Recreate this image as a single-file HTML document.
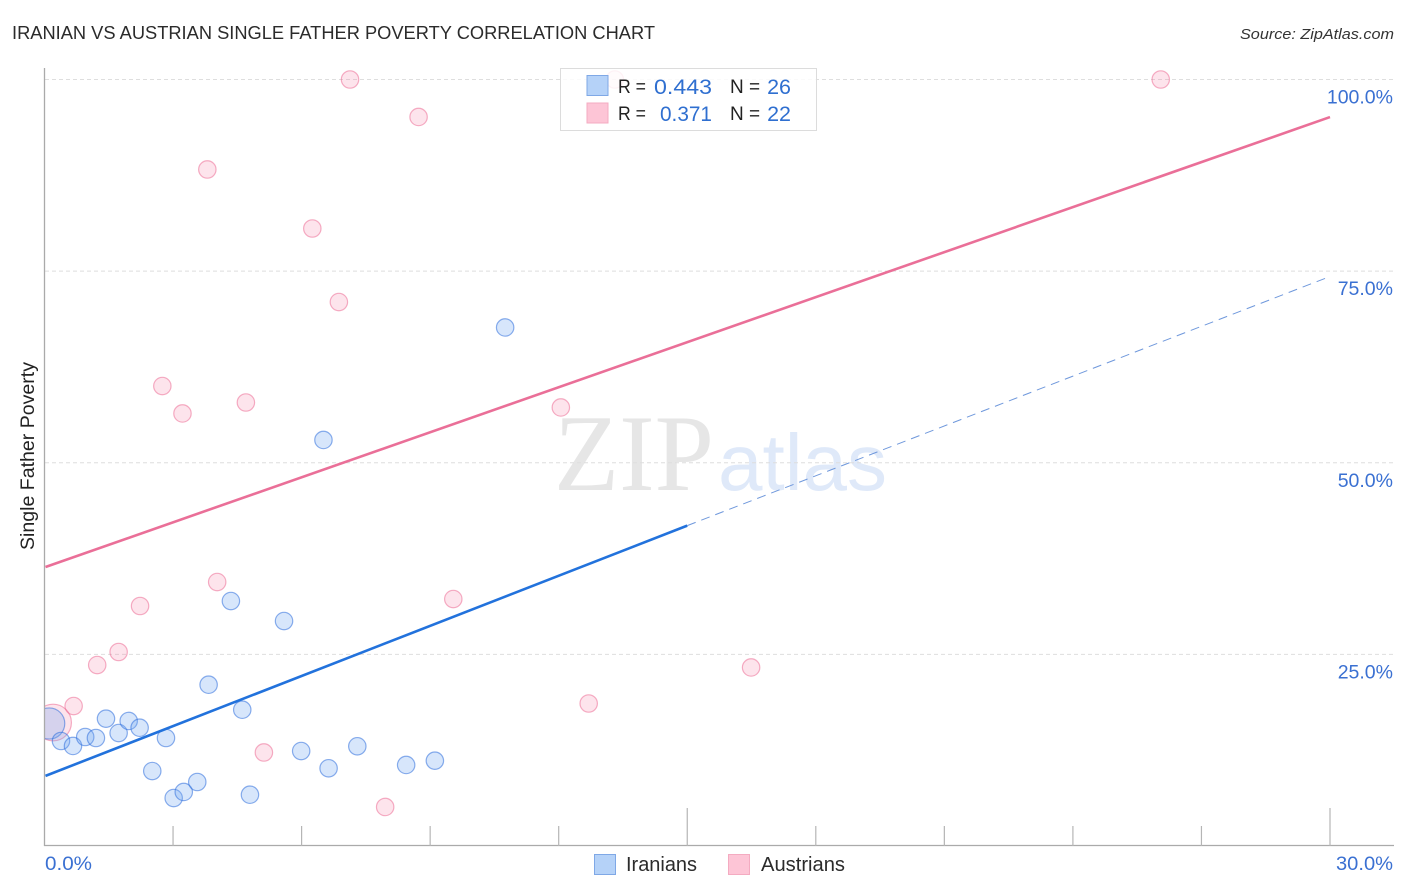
<!DOCTYPE html>
<html lang="en">
<head>
<meta charset="utf-8">
<title>Iranian vs Austrian Single Father Poverty Correlation Chart</title>
<style>
html,body{margin:0;padding:0;background:#fff;width:1406px;height:892px;overflow:hidden}
svg{display:block;font-family:"Liberation Sans",sans-serif}
</style>
</head>
<body>
<svg id="chart" width="1406" height="892" viewBox="0 0 1406 892" xmlns="http://www.w3.org/2000/svg">
  <text x="12" y="39" font-size="18.5" fill="#2b2b2b" textLength="643" lengthAdjust="spacingAndGlyphs">IRANIAN VS AUSTRIAN SINGLE FATHER POVERTY CORRELATION CHART</text>
  <text x="1394" y="39" font-size="15" font-style="italic" fill="#333" text-anchor="end" textLength="154" lengthAdjust="spacingAndGlyphs">Source: ZipAtlas.com</text>

  <g>
    <text x="554" y="490" font-family="'Liberation Serif',serif" font-size="109" fill="#e6e6e6" textLength="160" lengthAdjust="spacingAndGlyphs">ZIP</text>
    <text x="718" y="490" font-size="80" fill="#dfe9f9" textLength="169" lengthAdjust="spacingAndGlyphs">atlas</text>
  </g>

  <g id="grid"></g>
  <g id="points"></g>
  <rect x="26" y="695" width="18.5" height="55" fill="#fff"/>
  <g id="axes"></g>
  <g id="trends"></g>

  <g>
    <rect x="560.5" y="68.5" width="256" height="62" fill="#fff" fill-opacity="0.84" stroke="#dcdcdc" stroke-width="1"/>
    <rect x="587" y="75.5" width="21" height="20" fill="#b5d2f8" stroke="#7fa8e6" stroke-width="1"/>
    <rect x="587" y="103" width="21" height="20" fill="#fdc5d6" stroke="#f4abc1" stroke-width="1"/>
    <text x="618" y="93" font-size="19" fill="#222" textLength="28" lengthAdjust="spacingAndGlyphs">R =</text>
    <text x="654" y="94" font-size="21.5" fill="#2f6fd0" textLength="58" lengthAdjust="spacingAndGlyphs">0.443</text>
    <text x="730" y="93" font-size="19" fill="#222">N =</text>
    <text x="791" y="94" font-size="21.5" fill="#2f6fd0" text-anchor="end">26</text>
    <text x="618" y="120" font-size="19" fill="#222" textLength="28" lengthAdjust="spacingAndGlyphs">R =</text>
    <text x="660" y="121" font-size="21.5" fill="#2f6fd0" textLength="52" lengthAdjust="spacingAndGlyphs">0.371</text>
    <text x="730" y="120" font-size="19" fill="#222">N =</text>
    <text x="791" y="121" font-size="21.5" fill="#2f6fd0" text-anchor="end">22</text>
  </g>

  <g>
    <g>
      <rect x="594.5" y="854.5" width="21" height="20" fill="#b5d2f8" stroke="#7fa8e6" stroke-width="1"/>
      <text x="626" y="871" font-size="20" fill="#2b2b2b" textLength="71" lengthAdjust="spacingAndGlyphs">Iranians</text>
    </g>
    <g>
      <rect x="728.5" y="854.5" width="21" height="20" fill="#fdc5d6" stroke="#f4abc1" stroke-width="1"/>
      <text x="761" y="871" font-size="20" fill="#2b2b2b" textLength="84" lengthAdjust="spacingAndGlyphs">Austrians</text>
    </g>
  </g>

  <text transform="translate(34 456) rotate(-90)" font-size="19.5" fill="#222" text-anchor="middle" textLength="188" lengthAdjust="spacingAndGlyphs">Single Father Poverty</text>
</svg>
<script>
const iranianX = [0.11,0.385,0.665,0.95,1.20,1.435,1.73,1.965,2.22,2.515,2.835,3.015,3.25,3.565,3.83,4.35,4.615,4.795,5.59,5.99,6.51,6.63,7.30,8.44,9.11,10.75];
const iranianY = [15.98,13.70,13.05,14.22,14.09,16.61,14.74,16.31,15.43,9.78,14.09,6.26,7.05,8.35,21.04,31.96,17.78,6.69,29.35,12.39,52.97,10.14,13.01,10.57,11.13,67.65];
const iranianWeight = [3.2,1,1,1,1,1,1,1,1,1,1,1,1,1,1,1,1,1,1,1,1,1,1,1,1,1];
const austrianX = [0.20,0.68,1.23,1.73,2.23,2.75,3.22,3.80,4.03,4.70,5.12,6.25,6.87,7.13,7.95,8.73,9.54,12.05,12.70,13.31,16.49,26.05];
const austrianY = [16.11,18.26,23.61,25.31,31.31,60.01,56.43,88.26,34.44,57.86,12.20,80.56,70.97,100,5.09,95.11,32.22,57.21,18.59,100,23.29,100];
const austrianWeight = [4.45,1,1,1,1,1,1,1,1,1,1,1,1,1,1,1,1,1,1,1,1,1];
const iranianTrendX = [0,15,30];
const iranianTrendY = [9.15,41.8,74.3];
const austrianTrendX = [0,30];
const austrianTrendY = [36.4,95.1];
const yTicks = [25,50,75,100];
const yTickLabels = ['25.0%','50.0%','75.0%','100.0%'];
const xTicks = [3,6,9,12,15,18,21,24,27,30];
const xMajorTicks = [15,30];
const xEndLabels = ['0.0%','30.0%'];

const NS = 'http://www.w3.org/2000/svg';
const sx = v => 44.5 + v * 42.85;
const sy = v => 846 - v * 7.665;
const radius = w => 8.7 * Math.sqrt(w);
function make(tag, parent, attrs, text) {
  const el = document.createElementNS(NS, tag);
  for (const k in attrs) el.setAttribute(k, attrs[k]);
  if (text !== undefined) el.textContent = text;
  parent.appendChild(el);
  return el;
}
const grid = document.getElementById('grid');
const axes = document.getElementById('axes');
const points = document.getElementById('points');
const trends = document.getElementById('trends');

yTicks.forEach((t, i) => {
  const g = make('line', grid, {x1: 45, x2: 1394, y1: sy(t), y2: sy(t), stroke: '#dedede', 'stroke-width': 1, 'stroke-dasharray': '4 3'});
  
  
  const lbl = make('text', axes, {x: 1393, y: sy(t) + 24, 'font-size': 19.5, fill: '#3a70d2', 'text-anchor': 'end'}, yTickLabels[i]);
  
  
});

const yAxis = make('line', axes, {x1: 44.5, x2: 44.5, y1: 68, y2: 846, stroke: '#aaa', 'stroke-width': 1.3});


const xAxis = make('line', axes, {x1: 44, x2: 1394, y1: 845.5, y2: 845.5, stroke: '#aaa', 'stroke-width': 1.3});



xTicks.forEach(t => {
  const top = xMajorTicks.includes(t) ? 808 : 826;
  const tick = make('line', axes, {x1: sx(t), x2: sx(t), y1: top, y2: 846, stroke: '#b5b5b5', 'stroke-width': 1.2});
  
  
});

const xLabelLeft = make('text', axes, {x: 45, y: 870, 'font-size': 19.5, fill: '#3a70d2', textLength: 47, lengthAdjust: 'spacingAndGlyphs'}, xEndLabels[0]);


const xLabelRight = make('text', axes, {x: 1336, y: 870, 'font-size': 19.5, fill: '#3a70d2', textLength: 57, lengthAdjust: 'spacingAndGlyphs'}, xEndLabels[1]);



austrianX.forEach((x, i) => {
  const c = make('circle', points, {cx: sx(x), cy: sy(austrianY[i]), r: radius(austrianWeight[i]), fill: 'rgba(247,130,168,.22)', stroke: 'rgba(236,95,140,.5)', 'stroke-width': 1.2});
  
  
});
iranianX.forEach((x, i) => {
  const c = make('circle', points, {cx: sx(x), cy: sy(iranianY[i]), r: radius(iranianWeight[i]), fill: 'rgba(110,165,240,.28)', stroke: 'rgba(45,110,220,.55)', 'stroke-width': 1.2});
  
  
});

const austrianLine = make('line', trends, {x1: sx(austrianTrendX[0]) + 1, y1: sy(austrianTrendY[0]), x2: sx(austrianTrendX[1]), y2: sy(austrianTrendY[1]), stroke: '#ea6f98', 'stroke-width': 2.6});


const iranianSolid = make('line', trends, {x1: sx(iranianTrendX[0]) + 1, y1: sy(iranianTrendY[0]), x2: sx(iranianTrendX[1]), y2: sy(iranianTrendY[1]), stroke: '#2272dc', 'stroke-width': 2.6});


const iranianDash = make('line', trends, {x1: sx(iranianTrendX[1]), y1: sy(iranianTrendY[1]), x2: sx(iranianTrendX[2]), y2: sy(iranianTrendY[2]), stroke: '#6f98dc', 'stroke-width': 1, 'stroke-dasharray': '9 6'});


</script>
</body>
</html>
